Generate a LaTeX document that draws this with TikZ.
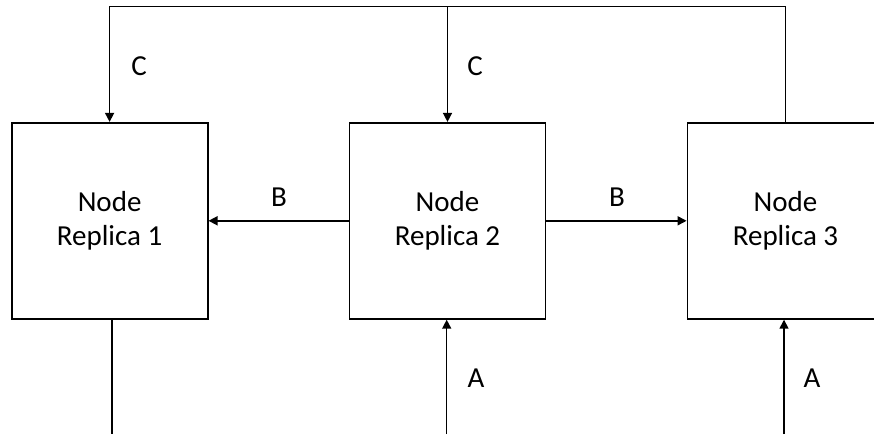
\documentclass[tikz,border=0pt]{standalone}
\usepackage{fontspec}
\setmainfont{Carlito}
\usetikzlibrary{arrows.meta}
\begin{document}
\begin{tikzpicture}[x=1pt,y=-1pt,
  replica/.style={draw, line width=1.8pt, minimum width=196pt, minimum height=196pt,
    inner sep=0pt, align=center, font=\fontsize{29}{34.4}\selectfont},
  link/.style={line width=1.5pt},
  flow/.style={link, -{Triangle[length=9pt,width=9pt]}},
  tag/.style={anchor=base, inner sep=0pt, font=\fontsize{29}{34.4}\selectfont}]
  \useasboundingbox (0,0) rectangle (874,434);
  \clip (0,0) rectangle (874,434);

  % replicas
  \node[replica] (r1) at (109.6,220.8) {Node\\Replica 1};
  \node[replica] (r2) at (447.5,220.8) {Node\\Replica 2};
  \node[replica] (r3) at (785.5,220.8) {Node\\Replica 3};

  % feedback bus along the top (C)
  \coordinate (t1) at (109.6,6.5);
  \coordinate (t3) at (785.5,6.5);
  \draw[flow] (r3.north) -- (t3) -- (t1) -- (r1.north);
  \draw[flow] (r2.north |- t1) -- (r2.north);
  \node[tag] (c1) at (139,75) {C};
  \node[tag] (c2) at (475,75) {C};

  % propagation from replica 2 (B)
  \draw[flow] (r2.west) -- (r1.east);
  \draw[flow] (r2.east) -- (r3.west);
  \node[tag] (b1) at (279,206) {B};
  \node[tag] (b2) at (617,206) {B};

  % inputs along the bottom (A)
  \coordinate (o1) at (112,434);
  \coordinate (i2) at (446.7,434);
  \coordinate (i3) at (784,434);
  \draw[link] (r1.south -| o1) -- (o1);
  \draw[flow] (i2) -- (i2 |- r2.south);
  \draw[flow] (i3) -- (i3 |- r3.south);
  \node[tag] (a1) at (476,387) {A};
  \node[tag] (a2) at (812,387) {A};
\end{tikzpicture}
\end{document}
